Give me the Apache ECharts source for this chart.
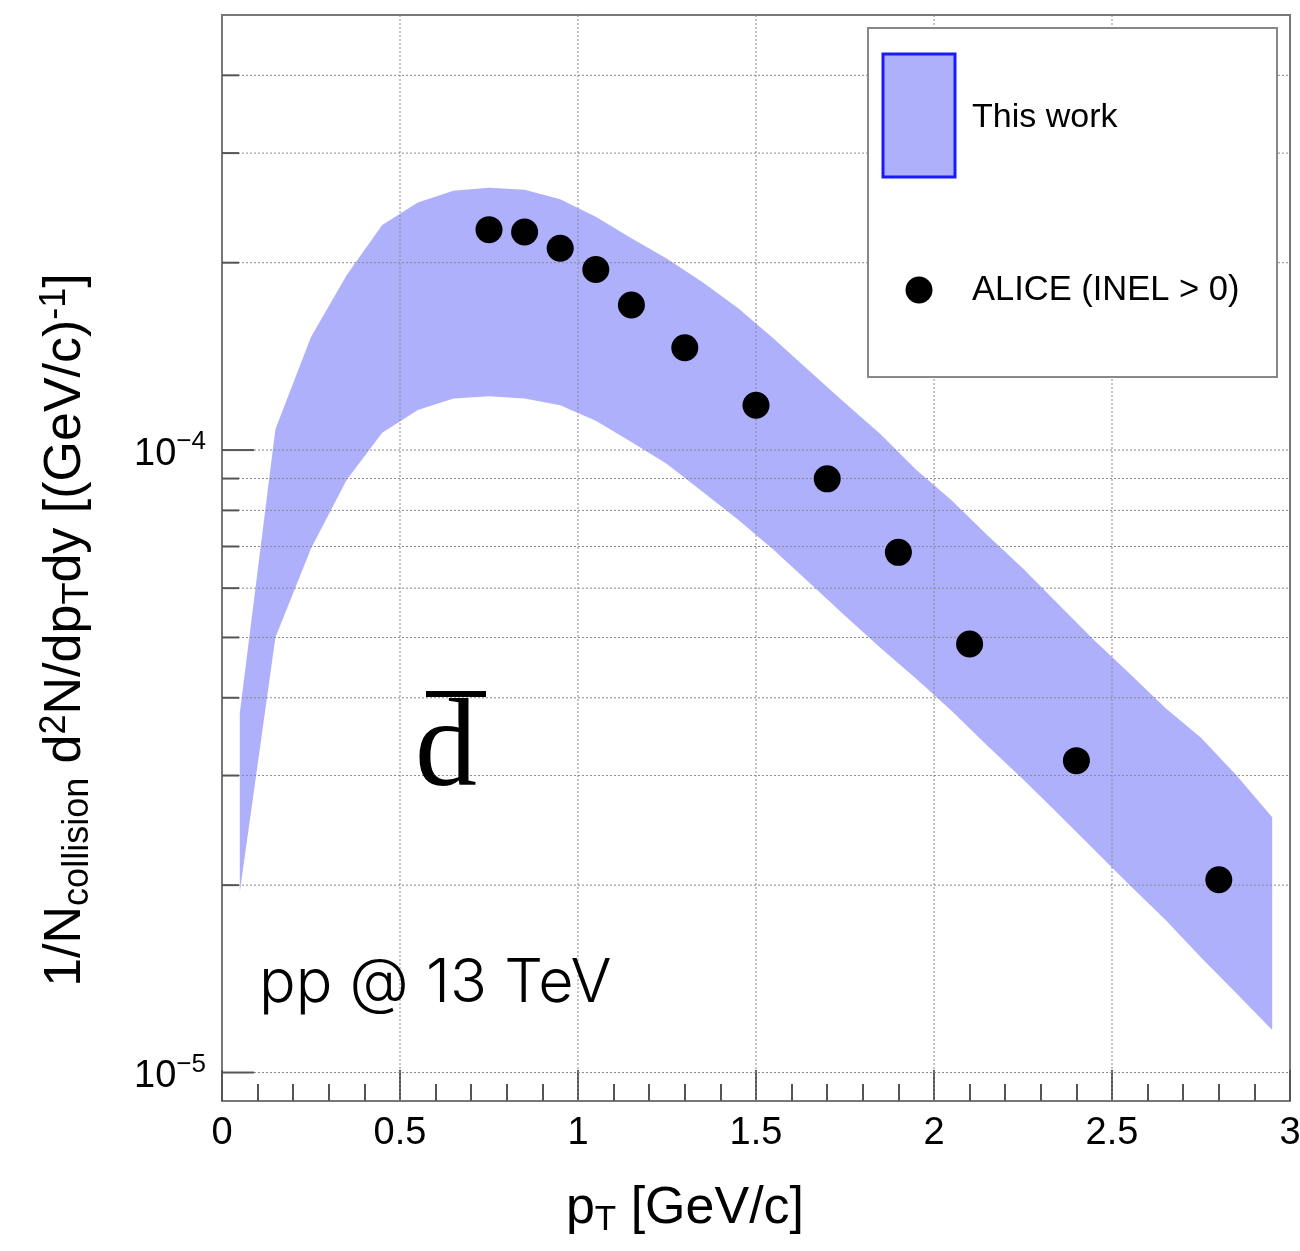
<!DOCTYPE html>
<html><head><meta charset="utf-8">
<script src="https://cdn.jsdelivr.net/npm/echarts@6/dist/echarts.min.js"></script>
<style>html,body{margin:0;padding:0;background:#fff}#c{width:1300px;height:1251px}</style>
</head><body><div id="c"></div>
<script>
// ---- data ----
const bandX = [0.05,0.15,0.25,0.35,0.45,0.55,0.65,0.75,0.85,0.95,1.05,1.15,1.25,1.35,1.45,1.55,1.65,1.75,1.85,1.95,2.05,2.15,2.25,2.35,2.45,2.55,2.65,2.75,2.85,2.95];
const bandHigh = [3.78e-5,1.08e-4,1.52e-4,1.91e-4,2.30e-4,2.50e-4,2.61e-4,2.64e-4,2.62e-4,2.53e-4,2.37e-4,2.19e-4,2.03e-4,1.86e-4,1.69e-4,1.51e-4,1.34e-4,1.19e-4,1.06e-4,9.3e-5,8.3e-5,7.3e-5,6.45e-5,5.65e-5,4.95e-5,4.37e-5,3.85e-5,3.45e-5,3.0e-5,2.57e-5];
const bandLow = [1.95e-5,5.0e-5,6.95e-5,8.95e-5,1.066e-4,1.16e-4,1.21e-4,1.22e-4,1.21e-4,1.18e-4,1.115e-4,1.03e-4,9.5e-5,8.57e-5,7.73e-5,6.91e-5,6.12e-5,5.42e-5,4.81e-5,4.29e-5,3.81e-5,3.35e-5,2.96e-5,2.60e-5,2.28e-5,2.0e-5,1.76e-5,1.53e-5,1.34e-5,1.17e-5];
const aliceX = [0.75,0.85,0.95,1.05,1.15,1.3,1.5,1.7,1.9,2.1,2.4,2.8];
const aliceY = [2.26e-4,2.24e-4,2.11e-4,1.95e-4,1.71e-4,1.46e-4,1.18e-4,8.99e-5,6.85e-5,4.88e-5,3.17e-5,2.04e-5];
const xRange = [0, 3];
const xInterval = 0.5;
const xGrid = [0.5,1,1.5,2,2.5];
const yRange = [9e-6, 5e-4];
const yMajor = [1e-5,1e-4];
const yMinor = [2e-5,3e-5,4e-5,5e-5,6e-5,7e-5,8e-5,9e-5,2e-4,3e-4,4e-4];
const seriesNames = ['This work', 'ALICE (INEL > 0)'];

// ---- styles ----
const BAND = '#aeb0fc';
const FRAME = '#777';
const GRIDC = '#8a8a8a';
const TICKC = '#555';
const FONT = '"Liberation Sans", Arial, Helvetica, sans-serif';

const chart = echarts.init(document.getElementById('c'), null, {renderer: 'canvas'});

const option = {
  backgroundColor: '#fff',
  animation: false,
  grid: {left: 222, right: 10, top: 15, bottom: 150, show: true, borderColor: FRAME, borderWidth: 2, backgroundColor: 'transparent', containLabel: false, outerBoundsMode: 'none'},
  xAxis: {
    type: 'value', min: xRange[0], max: xRange[1], interval: xInterval,
    name: 'p{sub|T} [GeV/c]', nameLocation: 'middle', nameGap: 78,
    nameTextStyle: {fontFamily: FONT, fontSize: 52, color: '#000', padding: [0, 142, 0, 0],
      rich: {sub: {fontFamily: FONT, fontSize: 35, color: '#000', padding: [24, 0, 0, 0]}}},
    axisLine: {lineStyle: {color: FRAME, width: 2}},
    axisTick: {inside: true, length: 31, lineStyle: {color: TICKC, width: 2}},
    minorTick: {show: true, splitNumber: 5, length: 17, lineStyle: {color: TICKC, width: 2}},
    splitLine: {show: false},
    axisLabel: {fontFamily: FONT, fontSize: 38, color: '#000', margin: 14,
      formatter: v => String(+v.toFixed(1))}
  },
  yAxis: {
    type: 'log', logBase: 10, min: yRange[0], max: yRange[1],
    name: '1/N{sub|collision} d{sup|2}N/dp{sub|T}dy [(GeV/c){sup|-1}]',
    nameLocation: 'middle', nameGap: 126, nameRotate: 90,
    nameTextStyle: {fontFamily: FONT, fontSize: 52, color: '#000', padding: [0, 144, 0, 0],
      rich: {
        sub: {fontFamily: FONT, fontSize: 36, color: '#000', padding: [24, 0, 0, 0]},
        sup: {fontFamily: FONT, fontSize: 36, color: '#000', padding: [0, 0, 22, 0]}
      }},
    axisLine: {lineStyle: {color: FRAME, width: 2}},
    axisTick: {show: false},
    splitLine: {show: false},
    axisLabel: {showMinLabel: false, showMaxLabel: false, margin: 16,
      formatter: v => '{b|10}{s|\u2212' + Math.abs(Math.round(Math.log10(v))) + '}',
      rich: {
        b: {fontFamily: FONT, fontSize: 38, color: '#000', padding: [8, 0, 0, 0]},
        s: {fontFamily: FONT, fontSize: 26, color: '#000', padding: [0, 0, 16, 0]}
      }}
  },
  series: [
    {
      name: 'vgrid', type: 'custom', silent: true, z: 3,
      data: xGrid.map(x => [x, yRange[0]]), encode: {x: 0, y: 1},
      renderItem: (params, api) => {
        const p = api.coord([api.value(0), yRange[0]]);
        const cs = params.coordSys;
        return {type: 'line', shape: {x1: p[0], y1: cs.y, x2: p[0], y2: cs.y + cs.height},
          style: {stroke: GRIDC, lineWidth: 1, lineDash: [2, 2]}};
      }
    },
    {
      name: 'hgrid', type: 'custom', silent: true, z: 3,
      data: yMajor.concat(yMinor).map(v => [xRange[0], v]), encode: {x: 0, y: 1},
      renderItem: (params, api) => {
        const v = api.value(1);
        const p = api.coord([xRange[0], v]);
        const cs = params.coordSys;
        const major = yMajor.indexOf(v) >= 0;
        return {type: 'group', children: [
          {type: 'line', shape: {x1: cs.x, y1: p[1], x2: cs.x + cs.width, y2: p[1]},
            style: {stroke: GRIDC, lineWidth: 1, lineDash: [2, 2]}},
          {type: 'line', shape: {x1: cs.x, y1: p[1], x2: cs.x + (major ? 32 : 17), y2: p[1]},
            style: {stroke: TICKC, lineWidth: 2}}
        ]};
      }
    },
    {
      name: seriesNames[0], type: 'custom', z: 2,
      data: bandX.map((x, i) => [x, bandLow[i], bandHigh[i]]), encode: {x: 0, y: [1, 2]},
      renderItem: (params, api) => {
        if (params.dataIndex !== 0) return;
        const pts = [];
        for (let i = 0; i < bandX.length; i++) pts.push(api.coord([bandX[i], bandHigh[i]]));
        for (let i = bandX.length - 1; i >= 0; i--) pts.push(api.coord([bandX[i], bandLow[i]]));
        return {type: 'polygon', shape: {points: pts}, style: {fill: BAND, stroke: null}};
      }
    },
    {
      name: seriesNames[1], type: 'scatter', z: 5,
      data: aliceX.map((x, i) => [x, aliceY[i]]),
      symbol: 'circle', symbolSize: 27,
      itemStyle: {color: '#000', opacity: 1}
    }
  ],
  graphic: [
    {type: 'group', z: 100, children: [
      {type: 'rect', shape: {x: 868, y: 28, width: 409, height: 349}, style: {fill: '#fff', stroke: '#888', lineWidth: 2}, z: 100},
      {type: 'rect', shape: {x: 883, y: 54, width: 72, height: 123}, style: {fill: BAND, stroke: '#1a1aff', lineWidth: 3}, z: 101},
      {type: 'text', x: 972, y: 118, style: {text: seriesNames[0], fontFamily: FONT, fontSize: 34, fill: '#000', textVerticalAlign: 'middle', verticalAlign: 'middle'}, z: 101},
      {type: 'circle', shape: {cx: 919, cy: 290, r: 13.5}, style: {fill: '#000'}, z: 101},
      {type: 'text', x: 972, y: 290, style: {text: seriesNames[1], fontFamily: FONT, fontSize: 34.5, fill: '#000', textVerticalAlign: 'middle', verticalAlign: 'middle'}, z: 101}
    ]},
    {type: 'text', z: 100, x: 415, y: 752, style: {text: 'd', fontFamily: '"Liberation Serif", "Times New Roman", serif', fontSize: 124, fill: '#000', verticalAlign: 'middle', textVerticalAlign: 'middle'}},
    {type: 'rect', z: 100, shape: {x: 426, y: 691, width: 60, height: 6}, style: {fill: '#000'}},
    {type: 'text', z: 100, x: 259, y: 984, style: {text: 'pp @ 13 TeV', fontFamily: 'Inter, "Liberation Sans", sans-serif', fontWeight: 300, fontSize: 61, fill: '#000', verticalAlign: 'middle', textVerticalAlign: 'middle'}}
  ]
};
chart.setOption(option);
</script>
</body></html>
